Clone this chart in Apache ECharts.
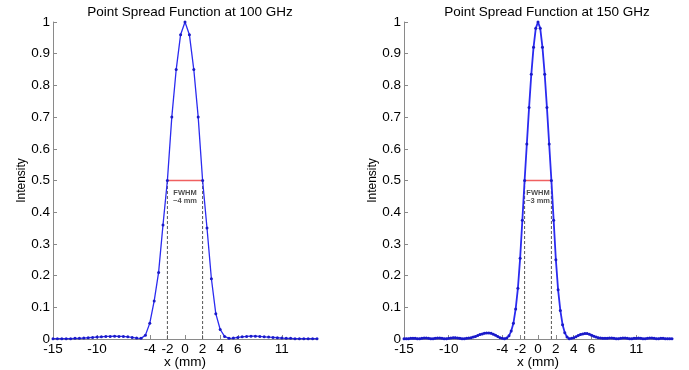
<!DOCTYPE html>
<html>
<head>
<meta charset="utf-8">
<script src="https://cdn.jsdelivr.net/npm/echarts@6/dist/echarts.min.js"></script>
<style>
  html, body { margin: 0; padding: 0; background: #fff; }
  #chart { width: 689px; height: 370px; }
</style>
</head>
<body>
<div id="chart"></div>
<script>
// x grids (mm): 100 GHz sampled every 0.5 mm, 150 GHz every 0.25 mm
const X_START = -15, X_END = 15;
const step100 = 0.5, step150 = 0.25;

// intensity, 100 GHz (x = -15 .. 15)
const psf100 = [
  0.001, 0.001, 0.001, 0.001, 0.001, 0.002, 0.002, 0.003, 0.004, 0.005,
  0.006, 0.007, 0.008, 0.008, 0.009, 0.008, 0.008, 0.007, 0.005, 0.003,
  0.002, 0.012, 0.05, 0.12, 0.21, 0.36, 0.50, 0.70, 0.85, 0.96,
  1.0,
  0.96, 0.85, 0.70, 0.50, 0.35, 0.19, 0.08, 0.03, 0.008, 0.002,
  0.003, 0.005, 0.007, 0.008, 0.009, 0.009, 0.008, 0.007, 0.006, 0.005,
  0.004, 0.003, 0.002, 0.002, 0.001, 0.001, 0.001, 0.001, 0.001, 0.001
];

// intensity, 150 GHz (x = -15 .. 15)
const psf150 = [
  0.001, 0.001, 0.001, 0.002, 0.002, 0.002, 0.001, 0.001,
  0.002, 0.003, 0.003, 0.002, 0.001, 0.001, 0.002, 0.003,
  0.003, 0.002, 0.001, 0.001, 0.002, 0.003, 0.004, 0.004,
  0.003, 0.002, 0.001, 0.001, 0.002, 0.003, 0.004, 0.006,
  0.008, 0.011, 0.014, 0.016, 0.018, 0.019, 0.019, 0.018, 0.015, 0.012, 0.008, 0.004, 0.002, 0.001, 0.003,
  0.01, 0.025, 0.05, 0.095, 0.16, 0.255, 0.375, 0.50, 0.615, 0.73, 0.835, 0.92, 0.98,
  1.0,
  0.98, 0.92, 0.835, 0.73, 0.615, 0.50, 0.375, 0.25, 0.155, 0.09, 0.045, 0.02, 0.006,
  0.001, 0.002, 0.004, 0.007, 0.011, 0.014, 0.016, 0.017, 0.017, 0.015, 0.012, 0.009, 0.006, 0.004, 0.003,
  0.002, 0.002, 0.002, 0.003, 0.003, 0.002, 0.001, 0.001,
  0.002, 0.003, 0.003, 0.002, 0.001, 0.001, 0.002, 0.002,
  0.003, 0.002, 0.001, 0.001, 0.002, 0.003, 0.003, 0.002,
  0.001, 0.001, 0.002, 0.002, 0.001, 0.001, 0.001, 0.001
];

const xTickLabels = [-15, -10, -4, -2, 0, 2, 4, 6, 11];
const titles = ['Point Spread Function at 100 GHz', 'Point Spread Function at 150 GHz'];
const fwhmEdges100 = [-2, 2];
const fwhmEdges150 = [-1.5, 1.5];
const fwhmLevel = 0.5;
const fwhmText = ['FWHM\n~4 mm', 'FWHM\n~3 mm'];

function pairs(start, step, values) {
  return values.map(function (v, i) { return [+(start + i * step).toFixed(3), v]; });
}

const FONT = 'Liberation Sans, Arial, sans-serif';

function makeX(idx) {
  return {
    type: 'value', gridIndex: idx, min: X_START, max: X_END,
    name: 'x (mm)', nameLocation: 'middle', nameGap: 16, nameMoveOverlap: false,
    nameTextStyle: { fontSize: 13.5, color: '#000', fontFamily: FONT },
    axisLine: { show: true, onZero: false, lineStyle: { color: '#8a8a8a', width: 1 } },
    axisTick: { show: true, inside: true, length: 4, customValues: xTickLabels, lineStyle: { color: '#8a8a8a' } },
    axisLabel: { customValues: xTickLabels, margin: 3, fontSize: 13.5, color: '#000', fontFamily: FONT },
    splitLine: { show: false }
  };
}

function makeY(idx) {
  return {
    type: 'value', gridIndex: idx, min: 0, max: 1, interval: 0.1,
    name: 'Intensity', nameLocation: 'middle', nameGap: 25, nameMoveOverlap: false,
    nameTextStyle: { fontSize: 12, color: '#000', fontFamily: FONT },
    axisLine: { show: true, onZero: false, lineStyle: { color: '#8a8a8a', width: 1 } },
    axisTick: { show: true, inside: true, length: 4, lineStyle: { color: '#8a8a8a' } },
    axisLabel: { margin: 3, fontSize: 13.5, color: '#000', fontFamily: FONT },
    splitLine: { show: false }
  };
}

function fwhmSeries(idx, edges, text) {
  return [
    {
      type: 'line', xAxisIndex: idx, yAxisIndex: idx, symbol: 'none', silent: true,
      lineStyle: { color: '#555', width: 1, type: [3, 2] },
      data: [[edges[0], 0], [edges[0], fwhmLevel]]
    },
    {
      type: 'line', xAxisIndex: idx, yAxisIndex: idx, symbol: 'none', silent: true,
      lineStyle: { color: '#555', width: 1, type: [3, 2] },
      data: [[edges[1], 0], [edges[1], fwhmLevel]]
    },
    {
      type: 'line', xAxisIndex: idx, yAxisIndex: idx, symbol: 'none', silent: true,
      lineStyle: { color: '#f06060', width: 1.5 },
      data: [[edges[0], fwhmLevel], [edges[1], fwhmLevel]]
    },
    {
      type: 'scatter', xAxisIndex: idx, yAxisIndex: idx, symbolSize: 0, silent: true,
      label: {
        show: true, position: 'inside', formatter: text,
        fontSize: 7.5, fontWeight: 'bold', color: '#222', lineHeight: 8, fontFamily: FONT
      },
      data: [[0, 0.447]]
    }
  ];
}

function psfSeries(idx, data, sym, width) {
  return {
    type: 'line', xAxisIndex: idx, yAxisIndex: idx, z: 5,
    symbol: 'circle', symbolSize: sym, showSymbol: true,
    itemStyle: { color: '#1a1ac8' },
    lineStyle: { color: '#2b2bf0', width: width },
    data: data
  };
}

const chart = echarts.init(document.getElementById('chart'));
chart.setOption({
  animation: false,
  title: [
    { text: titles[0], left: 185, top: 0, textAlign: 'center',
      textStyle: { fontSize: 13.5, fontWeight: 'normal', color: '#000', fontFamily: FONT } },
    { text: titles[1], left: 542, top: 0, textAlign: 'center',
      textStyle: { fontSize: 13.5, fontWeight: 'normal', color: '#000', fontFamily: FONT } }
  ],
  grid: [
    { left: 53, top: 22, width: 264, height: 317, outerBoundsMode: 'none', containLabel: false },
    { left: 404, top: 22, width: 268, height: 317, outerBoundsMode: 'none', containLabel: false }
  ],
  xAxis: [makeX(0), makeX(1)],
  yAxis: [makeY(0), makeY(1)],
  series: [].concat(
    fwhmSeries(0, fwhmEdges100, fwhmText[0]),
    fwhmSeries(1, fwhmEdges150, fwhmText[1]),
    [psfSeries(0, pairs(X_START, step100, psf100), 3, 1.3),
     psfSeries(1, pairs(X_START, step150, psf150), 3, 1.8)]
  )
});
</script>
</body>
</html>
